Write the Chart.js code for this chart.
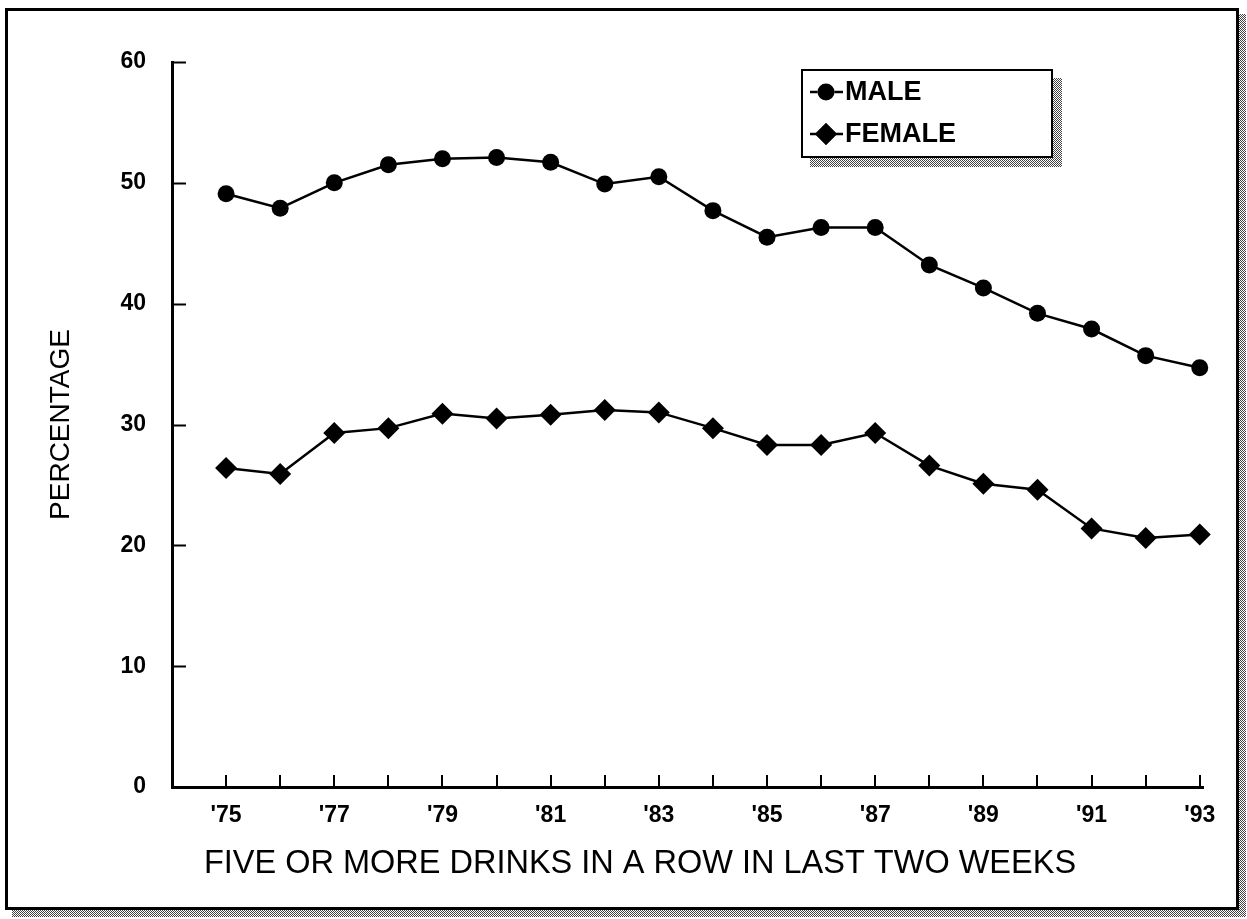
<!DOCTYPE html>
<html><head><meta charset="utf-8">
<script src="https://cdn.jsdelivr.net/npm/chart.js@4.4.1/dist/chart.umd.min.js"></script>
<style>html,body{margin:0;padding:0;background:#fff;overflow:hidden;}</style>
</head><body>
<canvas id="c" width="1247" height="919" style="display:block;width:1247px;height:919px"></canvas>
<script>
const years = [75,76,77,78,79,80,81,82,83,84,85,86,87,88,89,90,91,92,93];
const maleValues = [49.1,47.9,50.0,51.5,52.0,52.1,51.7,49.9,50.5,47.7,45.5,46.3,46.3,43.2,41.3,39.2,37.9,35.7,34.7];
const femaleValues = [26.4,25.9,29.3,29.7,30.9,30.5,30.8,31.2,31.0,29.7,28.3,28.3,29.3,26.6,25.1,24.6,21.4,20.6,20.9];
const tickYears = [75,77,79,81,83,85,87,89,91,93];
const tickLabels = ["'75","'77","'79","'81","'83","'85","'87","'89","'91","'93"];
const yTicks = [0,10,20,30,40,50,60];
const seriesNames = ["MALE","FEMALE"];
const xTitle = "FIVE OR MORE DRINKS IN A ROW IN LAST TWO WEEKS";
const yTitle = "PERCENTAGE";

const FONT = "'Liberation Sans', Arial, sans-serif";

function checker(ctx){
  const c=document.createElement('canvas'); c.width=2; c.height=2;
  const g=c.getContext('2d');
  g.fillStyle='#fff'; g.fillRect(0,0,2,2);
  g.fillStyle='#444'; g.fillRect(0,0,1,1); g.fillRect(1,1,1,1);
  return ctx.createPattern(c,'repeat');
}

const framePlugin = {
  id:'frame',
  beforeDraw(chart){
    const ctx=chart.ctx;
    ctx.save();
    ctx.fillStyle='#fff'; ctx.fillRect(0,0,chart.width,chart.height);
    const pat=checker(ctx);
    ctx.fillStyle=pat;
    ctx.fillRect(1239,14,7,903);
    ctx.fillRect(12,910,1234,7);
    ctx.strokeStyle='#000'; ctx.lineWidth=3;
    ctx.strokeRect(6.5,9.5,1231,899);
    ctx.restore();
  },
  afterDraw(chart){
    const ctx=chart.ctx, xs=chart.scales.x, ys=chart.scales.y;
    ctx.save();
    ctx.strokeStyle='#000'; ctx.lineWidth=2;
    ctx.beginPath();
    yTicks.forEach(v=>{
      const p=Math.round(ys.getPixelForValue(v))+0.5;
      ctx.moveTo(xs.left, p); ctx.lineTo(xs.left+14, p);
    });
    years.forEach(v=>{
      const p=Math.round(xs.getPixelForValue(v));
      ctx.moveTo(p, ys.bottom); ctx.lineTo(p, ys.bottom-12);
    });
    ctx.stroke();
    // x title
    ctx.fillStyle='#000';
    ctx.font = "32.5px " + FONT;
    ctx.textAlign='center'; ctx.textBaseline='middle';
    ctx.fillText(xTitle, 640, 864);
    // legend
    const L=802, T=70, R=1052, B=157;
    ctx.fillStyle=checker(ctx);
    ctx.fillRect(R+1, T+8, 9, B-T+1);
    ctx.fillRect(L+8, B+1, R-L+2, 9);
    ctx.fillStyle='#fff'; ctx.fillRect(L,T,R-L,B-T);
    ctx.strokeStyle='#000'; ctx.lineWidth=2;
    ctx.strokeRect(L,T,R-L,B-T);
    const rows=[92,134];
    chart.data.datasets.forEach((ds,i)=>{
      const y=rows[i];
      ctx.lineWidth=2.5;
      ctx.beginPath(); ctx.moveTo(810,y); ctx.lineTo(843,y); ctx.stroke();
      Chart.helpers.drawPoint(ctx,{pointStyle:ds.pointStyle, radius:ds.pointRadius, rotation:0, borderWidth:0}, 826, y);
      ctx.fillStyle='#000'; ctx.fill();
      ctx.font = "bold 27px " + FONT;
      ctx.textAlign='left'; ctx.textBaseline='middle';
      ctx.fillText(ds.label, 845, y+1);
    });
    ctx.restore();
  }
};

new Chart(document.getElementById('c'), {
  type:'line',
  data:{
    datasets:[
      {label:seriesNames[0], data:years.map((x,i)=>({x, y:maleValues[i]})), borderColor:'#000', backgroundColor:'#000', borderWidth:2.5, pointStyle:'circle', pointRadius:8.5, pointBorderWidth:0, tension:0, clip:false},
      {label:seriesNames[1], data:years.map((x,i)=>({x, y:femaleValues[i]})), borderColor:'#000', backgroundColor:'#000', borderWidth:2.5, pointStyle:'rectRot', pointRadius:11, pointBorderWidth:0, tension:0, clip:false}
    ]
  },
  options:{
    responsive:false, animation:false, devicePixelRatio:1,
    layout:{padding:{left:30, top:62, right:44, bottom:43}},
    plugins:{legend:{display:false}, tooltip:{enabled:false}},
    scales:{
      x:{type:'linear', min:74, max:93.06,
        afterBuildTicks(s){ s.ticks = tickYears.map(v=>({value:v})); },
        afterFit(s){ s.height=89; },
        grid:{display:false, drawTicks:false},
        border:{display:true, color:'#000', width:3},
        ticks:{padding:15, color:'#000', autoSkip:false, maxRotation:0,
          font:{family:FONT, size:23, weight:'bold'},
          callback(v){ const i=tickYears.indexOf(v); return i>=0?tickLabels[i]:''; }}
      },
      y:{type:'linear', min:0, max:60,
        afterBuildTicks(s){ s.ticks = yTicks.map(v=>({value:v})); },
        afterFit(s){ s.width=142; },
        grid:{display:false, drawTicks:false},
        border:{display:true, color:'#000', width:3},
        title:{display:true, text:yTitle, color:'#000', font:{family:FONT, size:28}, padding:{top:14, bottom:0}},
        ticks:{padding:26, color:'#000', font:{family:FONT, size:23, weight:'bold'}}
      }
    }
  },
  plugins:[framePlugin]
});
</script>
</body></html>
